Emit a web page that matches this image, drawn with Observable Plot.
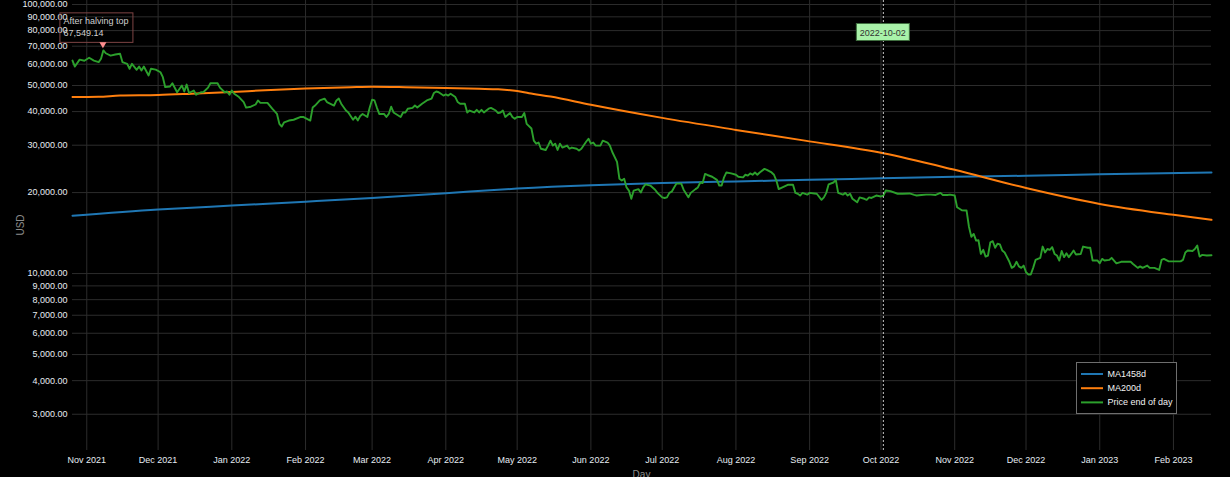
<!DOCTYPE html>
<html><head><meta charset="utf-8">
<script src="https://cdn.jsdelivr.net/npm/d3@7"></script>
<script src="https://cdn.jsdelivr.net/npm/@observablehq/plot@0.6"></script>
<style>
html,body{margin:0;padding:0;background:#000;}
#chart{position:relative;width:1230px;height:477px;overflow:hidden;background:#000;}
</style></head><body><div id="chart"></div>
<script>
// ---------------- data ----------------
const price = [
["2021-10-26",61900],["2021-10-27",58800],["2021-10-29",62400],["2021-10-31",61800],["2021-11-02",63400],["2021-11-04",61900],["2021-11-06",61100],["2021-11-07",62900],["2021-11-08",67549.14],["2021-11-09",65900],["2021-11-11",64600],["2021-11-13",65200],["2021-11-15",65600],["2021-11-16",61100],["2021-11-18",60200],["2021-11-19",57700],["2021-11-20",60200],["2021-11-22",57200],["2021-11-23",58800],["2021-11-24",56850],["2021-11-25",58800],["2021-11-27",54460],["2021-11-28",57700],["2021-11-30",57300],
["2021-12-02",56000],["2021-12-03",53700],["2021-12-04",49300],["2021-12-06",49600],["2021-12-07",51000],["2021-12-09",47200],["2021-12-11",50000],["2021-12-12",47500],["2021-12-13",50400],["2021-12-14",46900],["2021-12-16",47900],["2021-12-17",46200],["2021-12-19",47200],["2021-12-20",47200],["2021-12-22",49100],["2021-12-23",51000],["2021-12-26",51000],["2021-12-27",49100],["2021-12-29",47200],["2021-12-30",47500],["2021-12-31",46200],
["2022-01-01",47900],["2022-01-02",46600],["2022-01-04",45300],["2022-01-06",43400],["2022-01-07",41400],["2022-01-09",41700],["2022-01-11",42500],["2022-01-12",44000],["2022-01-13",43100],["2022-01-16",43100],["2022-01-18",41000],["2022-01-20",39200],["2022-01-21",36000],["2022-01-22",35200],["2022-01-23",36500],["2022-01-25",37050],["2022-01-27",37300],["2022-01-30",38200],["2022-01-31",38200],
["2022-02-01",37800],["2022-02-03",37050],["2022-02-04",41400],["2022-02-05",42130],["2022-02-07",44000],["2022-02-09",44700],["2022-02-10",43400],["2022-02-13",42130],["2022-02-14",44000],["2022-02-15",44700],["2022-02-16",42800],["2022-02-18",40360],["2022-02-19",39700],["2022-02-21",37300],["2022-02-22",38300],["2022-02-23",37100],["2022-02-24",38500],["2022-02-25",39200],["2022-02-27",38200],["2022-02-28",41400],
["2022-03-01",44300],["2022-03-02",44000],["2022-03-03",41400],["2022-03-04",39200],["2022-03-06",39200],["2022-03-07",38200],["2022-03-08",39200],["2022-03-09",41700],["2022-03-10",39700],["2022-03-11",39200],["2022-03-13",38200],["2022-03-14",39700],["2022-03-15",39700],["2022-03-16",41000],["2022-03-18",41300],["2022-03-19",42130],["2022-03-20",41400],["2022-03-22",42800],["2022-03-24",44000],["2022-03-26",44700],["2022-03-27",46900],["2022-03-28",47500],["2022-03-29",47200],["2022-03-31",45900],
["2022-04-01",46300],["2022-04-02",45900],["2022-04-03",46600],["2022-04-05",45300],["2022-04-06",43400],["2022-04-07",42800],["2022-04-09",42800],["2022-04-10",39700],["2022-04-11",40360],["2022-04-13",39700],["2022-04-14",40600],["2022-04-15",39700],["2022-04-16",40600],["2022-04-17",39700],["2022-04-19",41000],["2022-04-20",41300],["2022-04-22",40360],["2022-04-23",39500],["2022-04-24",39700],["2022-04-25",40360],["2022-04-26",38200],["2022-04-28",39500],["2022-04-29",38200],["2022-04-30",37600],
["2022-05-01",38200],["2022-05-03",38200],["2022-05-04",39500],["2022-05-05",36000],["2022-05-07",34600],["2022-05-08",31200],["2022-05-09",30400],["2022-05-10",30700],["2022-05-11",29100],["2022-05-13",28800],["2022-05-14",29900],["2022-05-15",31200],["2022-05-16",29900],["2022-05-17",30400],["2022-05-18",28800],["2022-05-19",30400],["2022-05-20",29400],["2022-05-22",29900],["2022-05-23",29100],["2022-05-24",29400],["2022-05-26",29100],["2022-05-27",28660],["2022-05-28",29100],["2022-05-30",30900],["2022-05-31",31700],
["2022-06-01",30400],["2022-06-02",30700],["2022-06-03",29900],["2022-06-05",29900],["2022-06-06",31200],["2022-06-08",30700],["2022-06-09",29900],["2022-06-10",28300],["2022-06-12",26000],["2022-06-13",22500],["2022-06-14",22170],["2022-06-15",22500],["2022-06-16",20900],["2022-06-17",20350],["2022-06-18",18970],["2022-06-19",20350],["2022-06-21",20600],["2022-06-22",20000],["2022-06-23",20900],["2022-06-24",21470],["2022-06-26",21240],["2022-06-28",20500],["2022-06-29",19950],
["2022-07-01",19200],["2022-07-02",19100],["2022-07-03",19200],["2022-07-04",19950],["2022-07-05",20150],["2022-07-06",20900],["2022-07-07",21600],["2022-07-09",21600],["2022-07-10",20500],["2022-07-12",19200],["2022-07-13",19950],["2022-07-15",20600],["2022-07-16",20900],["2022-07-17",21800],["2022-07-18",21700],["2022-07-19",23470],["2022-07-20",23250],["2022-07-22",22900],["2022-07-24",22300],["2022-07-25",21240],["2022-07-26",21240],["2022-07-27",22790],["2022-07-28",23760],["2022-07-30",23560],
["2022-08-01",23300],["2022-08-02",22900],["2022-08-04",22790],["2022-08-05",23300],["2022-08-06",23130],["2022-08-07",23560],["2022-08-08",23300],["2022-08-09",23760],["2022-08-10",23300],["2022-08-11",23760],["2022-08-13",24500],["2022-08-14",24300],["2022-08-16",23760],["2022-08-17",23300],["2022-08-18",22170],["2022-08-19",20600],["2022-08-21",21000],["2022-08-23",21400],["2022-08-25",21400],["2022-08-26",19950],["2022-08-27",19800],["2022-08-28",19500],["2022-08-29",19950],["2022-08-31",19650],
["2022-09-01",19950],["2022-09-03",19850],["2022-09-04",19800],["2022-09-06",18800],["2022-09-07",19200],["2022-09-08",19950],["2022-09-09",21470],["2022-09-11",21800],["2022-09-12",22300],["2022-09-13",19950],["2022-09-15",19650],["2022-09-16",19950],["2022-09-17",19500],["2022-09-18",19800],["2022-09-19",18970],["2022-09-21",18400],["2022-09-22",19200],["2022-09-24",18970],["2022-09-25",18800],["2022-09-26",19200],["2022-09-27",19100],["2022-09-29",19500],
["2022-10-01",19350],["2022-10-02",19500],["2022-10-03",20350],["2022-10-05",20250],["2022-10-08",19800],["2022-10-10",19800],["2022-10-13",19850],["2022-10-15",19600],["2022-10-16",19500],["2022-10-18",19600],["2022-10-20",19650],["2022-10-22",19650],["2022-10-24",19600],["2022-10-26",19950],["2022-10-27",19600],["2022-10-29",19600],["2022-10-30",19650],
["2022-11-01",19500],["2022-11-02",17650],["2022-11-04",17200],["2022-11-06",17150],["2022-11-07",14930],["2022-11-08",13700],["2022-11-09",14040],["2022-11-10",13260],["2022-11-11",13300],["2022-11-12",11830],["2022-11-13",12250],["2022-11-14",11560],["2022-11-15",11670],["2022-11-16",13070],["2022-11-17",13190],["2022-11-18",12470],["2022-11-19",12910],["2022-11-20",12840],["2022-11-21",12180],["2022-11-22",11980],["2022-11-24",11060],["2022-11-25",10500],["2022-11-26",10630],["2022-11-27",11060],["2022-11-28",10630],["2022-11-29",10500],["2022-11-30",10710],
["2022-12-01",10110],["2022-12-02",9920],["2022-12-03",9920],["2022-12-04",10500],["2022-12-05",11240],["2022-12-07",11440],["2022-12-08",12600],["2022-12-09",11980],["2022-12-10",12340],["2022-12-11",12250],["2022-12-12",12540],["2022-12-13",11830],["2022-12-14",11670],["2022-12-15",11180],["2022-12-16",12130],["2022-12-17",11510],["2022-12-18",11890],["2022-12-19",11510],["2022-12-20",11830],["2022-12-21",12180],["2022-12-22",11780],["2022-12-24",11830],["2022-12-25",12600],["2022-12-27",12470],["2022-12-28",12470],["2022-12-29",11180],["2022-12-31",11200],
["2023-01-01",10920],["2023-01-02",11340],["2023-01-03",11180],["2023-01-05",11240],["2023-01-06",11440],["2023-01-07",11180],["2023-01-08",10920],["2023-01-10",11060],["2023-01-12",11060],["2023-01-14",11060],["2023-01-15",10860],["2023-01-17",10500],["2023-01-18",10630],["2023-01-19",10500],["2023-01-21",10710],["2023-01-22",10500],["2023-01-24",10500],["2023-01-26",10320],["2023-01-27",11240],["2023-01-28",11340],["2023-01-30",11100],
["2023-02-01",11100],["2023-02-04",11100],["2023-02-05",11240],["2023-02-06",11980],["2023-02-07",12180],["2023-02-09",12130],["2023-02-10",12340],["2023-02-11",12710],["2023-02-12",11560],["2023-02-13",11730],["2023-02-15",11670],["2023-02-17",11700]
];
const ma200 = [
["2021-10-26",45300],["2021-11-06",45400],["2021-11-15",45900],["2021-12-01",46100],["2021-12-15",46600],["2022-01-01",47300],["2022-01-15",48000],["2022-02-01",48700],["2022-02-20",49300],["2022-03-01",49500],["2022-03-15",49300],["2022-04-01",48900],["2022-04-15",48600],["2022-04-23",48400],["2022-05-01",47700],["2022-05-06",46800],["2022-05-15",45500],["2022-06-01",42400],["2022-07-01",37900],["2022-08-01",34200],["2022-08-30",31200],["2022-10-02",28000],["2022-11-01",24300],["2022-12-01",20800],["2023-01-01",18150],["2023-02-01",16530],["2023-02-17",15840]
];
const ma1458 = [
["2021-10-26",16400],["2021-12-01",17300],["2022-01-01",17900],["2022-02-01",18500],["2022-03-01",19100],["2022-04-01",19900],["2022-05-01",20700],["2022-06-01",21300],["2022-07-01",21700],["2022-08-01",22000],["2022-09-01",22300],["2022-10-01",22600],["2022-11-01",22900],["2022-12-01",23100],["2023-01-01",23400],["2023-02-17",23760]
];
const xTicks = ["2021-11-01","2021-12-01","2022-01-01","2022-02-01","2022-03-01","2022-04-01","2022-05-01","2022-06-01","2022-07-01","2022-08-01","2022-09-01","2022-10-01","2022-11-01","2022-12-01","2023-01-01","2023-02-01"];
const yTicks = [3000,4000,5000,6000,7000,8000,9000,10000,20000,30000,40000,50000,60000,70000,80000,90000,100000];
const seriesNames = ["MA1458d","MA200d","Price end of day"];
const seriesColors = ["#1f77b4","#ff7f0e","#2ca02c"];
const peak = {date:"2021-11-08", value:67549.14, label:"After halving top"};
const markerDate = "2022-10-02";
const xLabel = "Day", yLabel = "USD";

// ---------------- build ----------------
const parse = d3.utcParse("%Y-%m-%d");
const rows = (arr, name) => arr.map(([d,v]) => ({date: parse(d), value: v, series: name}));
const priceRows = rows(price, seriesNames[2]);
const ma200Rows = rows(ma200, seriesNames[1]);
const ma1458Rows = rows(ma1458, seriesNames[0]);

const W = 1230, H = 477, mL = 72, mR = 19, mT = 0, mB = 27;
const gridColor = "#2c2c2c";
const textColor = "#e6ecf2";
const font = "'Liberation Sans', Arial, sans-serif";
const fmtY = d3.format(",.2f");

const plot = Plot.plot({
  width: W, height: H,
  marginLeft: mL, marginRight: mR, marginTop: mT, marginBottom: mB,
  style: {background: "#000", color: textColor, fontFamily: font, fontSize: "9px", overflow: "visible"},
  x: {type: "utc", domain: [parse(price[0][0]), parse(price[price.length-1][0])]},
  y: {type: "log", domain: [2200, 103500], axis: null},
  color: {domain: seriesNames, range: seriesColors},
  marks: [
    Plot.gridX(xTicks.map(parse), {stroke: gridColor, strokeOpacity: 1, strokeWidth: 1}),
    Plot.gridY(yTicks, {stroke: gridColor, strokeOpacity: 1, strokeWidth: 1}),
    Plot.axisX(xTicks.map(parse), {tickSize: 0, tickPadding: 6, tickFormat: d3.utcFormat("%b %Y"), label: null}),
    Plot.text(yTicks, {y: d => d, text: d => fmtY(d), frameAnchor: "left", textAnchor: "end", dx: -5, fill: textColor}),
    Plot.line(ma1458Rows, {x: "date", y: "value", stroke: "series", strokeWidth: 2, curve: "monotone-x"}),
    Plot.line(ma200Rows, {x: "date", y: "value", stroke: "series", strokeWidth: 2, curve: "monotone-x"}),
    Plot.line(priceRows, {x: "date", y: "value", stroke: "series", strokeWidth: 1.9}),
    Plot.ruleX([parse(markerDate)], {stroke: "#c8c8c8", strokeWidth: 1, strokeDasharray: "2,2"})
  ]
});
document.getElementById("chart").appendChild(plot);

const svg = d3.select(plot);
const sx = plot.scale("x"), sy = plot.scale("y");

// axis titles
svg.append("text").text(yLabel)
  .attr("transform", `translate(20,${(mT + H - mB)/2}) rotate(-90)`)
  .attr("text-anchor", "middle").attr("dominant-baseline", "central")
  .attr("fill", "#8c8c8c").attr("font-size", 10).attr("font-family", font);
svg.append("text").text(xLabel)
  .attr("x", (mL + W - mR)/2).attr("y", 478)
  .attr("text-anchor", "middle")
  .attr("fill", "#8c8c8c").attr("font-size", 10).attr("font-family", font);

// peak annotation
const px = sx.apply(parse(peak.date)), py = sy.apply(peak.value);
const ann = svg.append("g").attr("text-anchor", "start");
ann.append("rect").attr("x", px - 43).attr("y", py - 37).attr("width", 73).attr("height", 29.5)
  .attr("fill", "none").attr("stroke", "#7e4444").attr("stroke-width", 1);
ann.append("text").text(peak.label).attr("x", px - 39.5).attr("y", py - 26)
  .attr("text-anchor", "start")
  .attr("fill", "#cfcfcf").attr("font-size", 9).attr("font-family", font);
ann.append("text").text(fmtY(peak.value)).attr("x", px - 39.5).attr("y", py - 13.5)
  .attr("text-anchor", "start")
  .attr("fill", "#cfcfcf").attr("font-size", 9).attr("font-family", font);
ann.append("path")
  .attr("d", `M${px-3.5},${py-7.5}L${px+3.5},${py-7.5}L${px},${py-1.5}Z`)
  .attr("fill", "#ff8f8f");

// date marker label
const mx = sx.apply(parse(markerDate));
const mk = svg.append("g");
mk.append("rect").attr("x", mx - 26.5).attr("y", 23.5).attr("width", 53).attr("height", 17)
  .attr("fill", "#a9f2a9").attr("stroke", "#3f6e3f").attr("stroke-width", 1);
mk.append("text").text(markerDate).attr("x", mx).attr("y", 35.5).attr("text-anchor", "middle")
  .attr("fill", "#333").attr("font-size", 9).attr("font-family", font);

// legend
const lgX = W - mR - 134.5, lgY = 362.5;
const lg = svg.append("g").attr("text-anchor", "start");
lg.append("rect").attr("x", lgX).attr("y", lgY).attr("width", 100).attr("height", 51)
  .attr("fill", "#000").attr("stroke", "#6e6e6e").attr("stroke-width", 1);
seriesNames.forEach((name, i) => {
  const yy = lgY + 11.5 + i * 14.2;
  lg.append("line").attr("x1", lgX + 4.5).attr("x2", lgX + 26.5).attr("y1", yy).attr("y2", yy)
    .attr("stroke", seriesColors[i]).attr("stroke-width", 2);
  lg.append("text").text(name).attr("x", lgX + 31).attr("y", yy).attr("dominant-baseline", "central")
    .attr("text-anchor", "start")
    .attr("fill", "#f2f2f2").attr("font-size", 9).attr("font-family", font);
});
</script></body></html>
